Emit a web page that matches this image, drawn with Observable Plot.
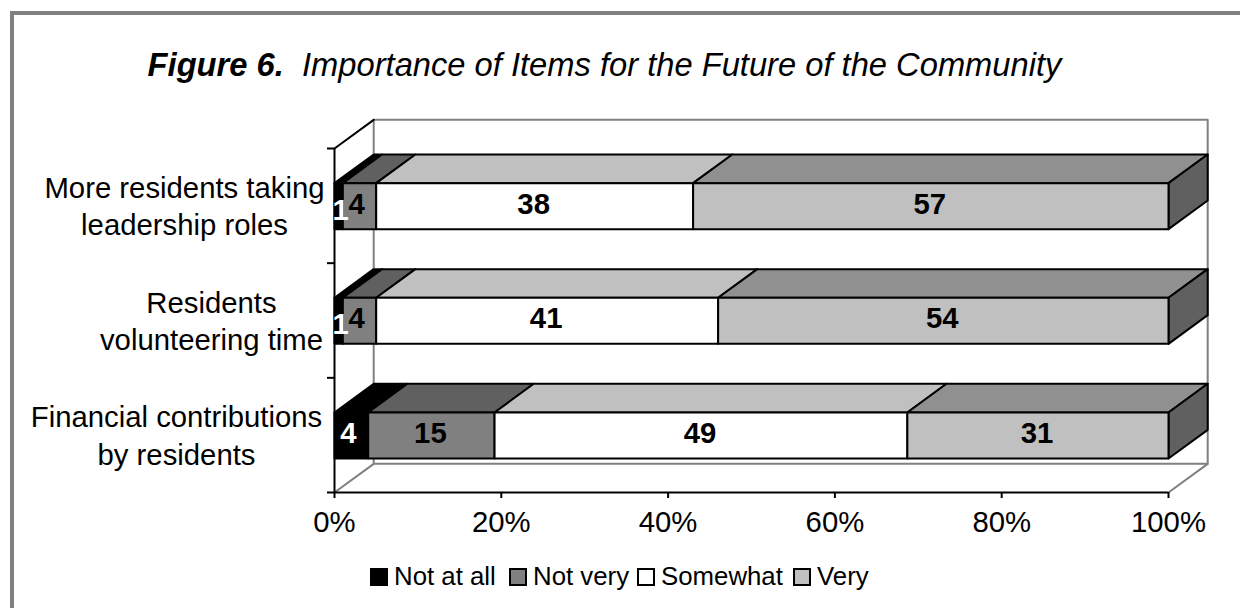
<!DOCTYPE html>
<html>
<head>
<meta charset="utf-8">
<script src="https://cdn.jsdelivr.net/npm/d3@7"></script>
<script src="https://cdn.jsdelivr.net/npm/@observablehq/plot@0.6"></script>
<style>
html,body{margin:0;padding:0;background:#fff}
#page{position:relative;width:1240px;height:608px;overflow:hidden;font-family:"Liberation Sans",Arial,sans-serif;color:#000}
#frame{position:absolute;left:10px;top:11px;width:1300px;height:700px;border:4px solid #808080;box-sizing:border-box}
#title{position:absolute;left:0;top:47px;width:1209px;text-align:center;font-size:32.7px;line-height:36px;font-style:italic;white-space:pre}
#title b{font-weight:bold}
#chart{position:absolute;left:0;top:100px}
#chart svg{background:transparent}
#legend{position:absolute;top:560px;left:0;height:32px;font-size:25.8px;line-height:32px}
#legend span{position:absolute;white-space:nowrap}
#legend i{position:absolute;width:14px;height:14px;top:8px;border:2px solid #000;display:block}
</style>
</head>
<body>
<div id="page">
  <div id="frame"></div>
  <div id="title"><b>Figure 6.</b>  Importance of Items for the Future of the Community</div>
  <div id="chart"></div>
  <div id="legend"></div>
</div>
<script>
// Data (bottom to top on the chart)
const categories = ["Financial contributions\nby residents", "Residents\nvolunteering time", "More residents taking\nleadership roles"];
const levels = ["Not at all", "Not very", "Somewhat", "Very"];
const notAtAll = [4, 1, 1];
const notVery = [15, 4, 4];
const somewhat = [49, 41, 38];
const very = [31, 54, 57];
const xTicks = [0, 20, 40, 60, 80, 100];

// Styling
const frontFill = ["#000000", "#808080", "#ffffff", "#c0c0c0"];
const topFill = ["#000000", "#606060", "#c0c0c0", "#909090"];
const sideFill = "#606060";
const labelFill = ["#ffffff", "#000000", "#000000", "#000000"];
const labelOffset = [-158, -123, -150];

// 3-D projection in data units
const depthX = 4.7, depthY = 0.25, barLow = 0.2965, barHigh = 0.698;
const series = [notAtAll, notVery, somewhat, very];

// A 100% stacked bar: each row is scaled by its own total
const segments = [];
categories.forEach((c, i) => {
  const total = d3.sum(series, s => s[i]);
  let sum = 0;
  series.forEach((s, k) => {
    const start = sum / total * 100;
    sum += s[i];
    segments.push({cat: i, level: k, start, end: sum / total * 100, value: s[i]});
  });
});

const polygons = [];
let pid = 0;
function poly(points, fill) {
  const id = pid++;
  for (const [x, y] of points) polygons.push({id, x, y, fill});
}
for (const s of segments) {
  const hi = s.cat + barHigh;
  poly([[s.start, hi], [s.start + depthX, hi + depthY], [s.end + depthX, hi + depthY], [s.end, hi]], topFill[s.level]);
}
for (const s of segments) {
  if (s.level === 3) {
    const lo = s.cat + barLow, hi = s.cat + barHigh;
    poly([[s.end, lo], [s.end + depthX, lo + depthY], [s.end + depthX, hi + depthY], [s.end, hi]], sideFill);
  }
}
for (const s of segments) {
  const lo = s.cat + barLow, hi = s.cat + barHigh;
  poly([[s.start, lo], [s.end, lo], [s.end, hi], [s.start, hi]], frontFill[s.level]);
}

const wall = [[depthX, depthY], [depthX, 3 + depthY], [100 + depthX, 3 + depthY], [100 + depthX, depthY], [depthX, depthY]].map(([x, y]) => ({x, y}));
const floor = [{x: 0, y: 0, g: 0}, {x: depthX, y: depthY, g: 0}, {x: 100, y: 0, g: 1}, {x: 100 + depthX, y: depthY, g: 1}];
const sideTop = [{x: 0, y: 3}, {x: depthX, y: 3 + depthY}];

const midX = d => (d.start + d.end) / 2;
const midY = d => d.cat + (barLow + barHigh) / 2;
const valueLabel = {x: midX, y: midY, text: "value", fill: d => labelFill[d.level], fontSize: 29.3, fontWeight: "bold"};

const chart = Plot.plot({
  width: 1240,
  height: 445,
  marginLeft: 334,
  marginRight: 72,
  marginTop: 48,
  marginBottom: 53,
  x: {type: "linear", domain: [0, 100]},
  y: {type: "linear", domain: [0, 3]},
  color: {type: "identity"},
  style: {fontFamily: '"Liberation Sans",Arial,sans-serif', background: "transparent", overflow: "visible"},
  marks: [
    Plot.line(wall, {x: "x", y: "y", stroke: "#808080", strokeWidth: 2}),
    Plot.line(floor, {x: "x", y: "y", z: "g", stroke: "#808080", strokeWidth: 2}),
    Plot.line(sideTop, {x: "x", y: "y", stroke: "#000", strokeWidth: 2}),
    Plot.line(polygons, {x: "x", y: "y", z: "id", fill: "fill", stroke: "#000", strokeWidth: 2, curve: "linear-closed"}),
    Plot.ruleX([0], {y1: 0, y2: 3, stroke: "#000", strokeWidth: 2}),
    Plot.ruleY([0], {x1: 0, x2: 100, stroke: "#000", strokeWidth: 2}),
    Plot.axisX({ticks: xTicks, tickFormat: d => d + "%", tickSize: 6, tickPadding: 13, fontSize: 29.3, stroke: "#000", strokeWidth: 2, color: "#000", label: null}),
    Plot.axisY({ticks: [0, 1, 2, 3], tickFormat: () => "", tickSize: 7, stroke: "#000", strokeWidth: 2, label: null}),
    ...categories.map((c, i) => Plot.text([c], {x: 0, y: i + 0.5, dx: labelOffset[i], dy: -1, textAnchor: "middle", fontSize: 29.3, lineHeight: 1.27, fill: "#000"})),
    Plot.text(segments.filter(d => d.value >= 10), {...valueLabel, dx: -1, dy: -2}),
    Plot.text(segments.filter(d => d.value > 1 && d.value < 10), {...valueLabel, dx: -3, dy: -2}),
    Plot.text(segments.filter(d => d.value === 1), {...valueLabel, dx: 2, dy: 4})
  ]
});
document.getElementById("chart").appendChild(chart);

// Legend
const legendX = [370, 509, 637, 793];
const legend = document.getElementById("legend");
levels.forEach((name, k) => {
  const sw = document.createElement("i");
  sw.style.left = legendX[k] + "px";
  sw.style.background = frontFill[k];
  legend.appendChild(sw);
  const t = document.createElement("span");
  t.textContent = name;
  t.style.left = legendX[k] + 24 + "px";
  legend.appendChild(t);
});
</script>
</body>
</html>
